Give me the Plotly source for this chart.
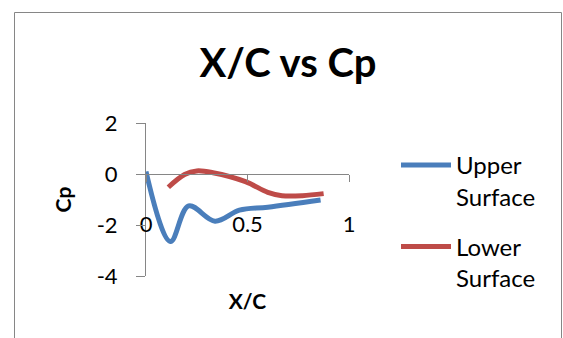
import plotly.graph_objects as go

# Pressure coefficient along the chord
upper_xc = [0.0, 0.12, 0.21, 0.34, 0.46, 0.60, 0.86]
upper_cp = [0.10, -2.65, -1.25, -1.85, -1.42, -1.30, -1.02]

lower_xc = [0.11, 0.19, 0.25, 0.33, 0.49, 0.60, 0.67, 0.77, 0.875]
lower_cp = [-0.52, -0.02, 0.12, 0.05, -0.30, -0.72, -0.85, -0.85, -0.77]

x_ticks = [0, 0.5, 1]
y_ticks = [-4, -2, 0, 2]

FONT = "Lato, Calibri, Arial, sans-serif"
AXIS_GRAY = "#868686"

fig = go.Figure()
fig.add_trace(go.Scatter(
    x=upper_xc, y=upper_cp, mode="lines", name="Upper<br>Surface",
    legendgroup="u",
    line=dict(color="#4A7EBB", width=5, shape="spline", smoothing=1.0),
))
fig.add_trace(go.Scatter(
    x=lower_xc, y=lower_cp, mode="lines", name="Lower<br>Surface",
    legendgroup="l",
    line=dict(color="#BE4B48", width=5, shape="spline", smoothing=1.0),
))

W, H = 563, 338
ml, mr, mt, mb = 146, 214, 123, 62
pw, ph = W - ml - mr, H - mt - mb

def px_x(px):
    return (px - ml) / pw

def px_y(py):
    return (H - mb - py) / ph

fig.update_layout(
    template="none",
    width=W, height=H,
    margin=dict(l=ml, r=mr, t=mt, b=mb, pad=0),
    paper_bgcolor="white", plot_bgcolor="white",
    font=dict(family=FONT, color="black", size=22),
    title=dict(text="<b>X/C vs Cp</b>", x=288 / W, xanchor="center",
               y=1 - 63 / H, yanchor="middle", font=dict(size=40, family=FONT)),
    showlegend=True,
    legend=dict(x=px_x(396), y=px_y(143), xanchor="left", yanchor="top",
                valign="top", tracegroupgap=16, font=dict(size=24),
                itemwidth=50, maxheight=320,
                bgcolor="rgba(0,0,0,0)", borderwidth=0),
    xaxis=dict(range=[0, 1], tickvals=x_ticks, ticktext=[str(v) for v in x_ticks],
               anchor="free", position=(0 - (-4)) / 6,
               showline=True, linecolor=AXIS_GRAY, linewidth=1,
               ticks="outside", ticklen=7, tickcolor=AXIS_GRAY,
               ticklabelstandoff=24, showgrid=False, zeroline=False,
               title=dict(text="<b>X/C</b>", standoff=57, font=dict(size=21))),
    yaxis=dict(range=[-4, 2], tickvals=y_ticks, ticktext=[str(v) for v in y_ticks],
               showline=True, linecolor=AXIS_GRAY, linewidth=1,
               ticks="outside", ticklen=9, tickcolor=AXIS_GRAY,
               ticklabelstandoff=14, showgrid=False, zeroline=False,
               title=dict(text="<b>Cp</b>", standoff=19, font=dict(size=21))),
    shapes=[dict(type="rect", xref="paper", yref="paper",
                 x0=px_x(14.5), x1=px_x(561.5), y0=px_y(345), y1=px_y(12.5),
                 line=dict(color=AXIS_GRAY, width=1), fillcolor="rgba(0,0,0,0)",
                 layer="below")],
)

fig.write_html("out.html")
